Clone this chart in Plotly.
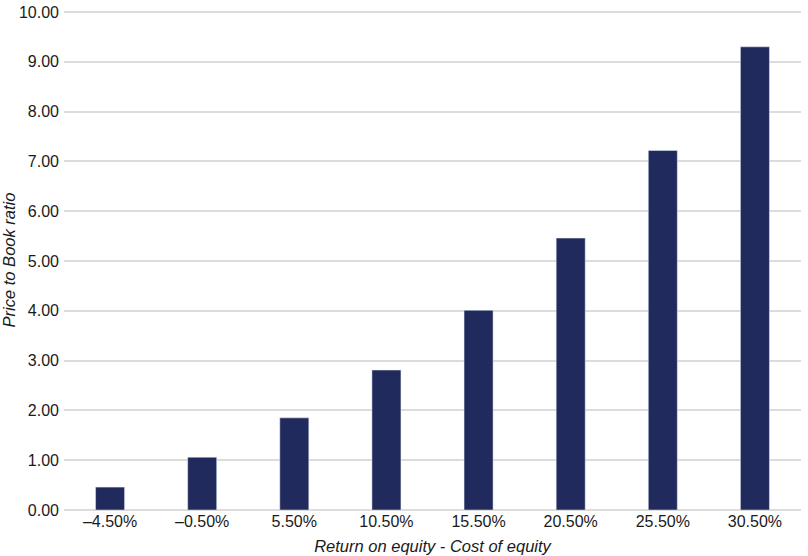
import plotly.graph_objects as go

# spread between return on equity and cost of equity
spread = ['–4.50%', '–0.50%', '5.50%', '10.50%', '15.50%', '20.50%', '25.50%', '30.50%']
pb_ratio = [0.46, 1.06, 1.85, 2.81, 4.01, 5.46, 7.22, 9.30]

y_ticks = [0, 1, 2, 3, 4, 5, 6, 7, 8, 9, 10]

fig = go.Figure()

fig.add_trace(go.Bar(x=spread, y=pb_ratio, marker=dict(color='#212a5c'), name='P/B'))

fig.update_layout(
    width=808, height=556,
    margin=dict(l=64, r=7, t=10, b=46),
    plot_bgcolor='white', paper_bgcolor='white',
    font=dict(family='Liberation Sans, Arial, sans-serif', size=16, color='#1a1a1a'),
    bargap=0.685,
    showlegend=False,
    xaxis=dict(
        title=dict(text='<i>Return on equity - Cost of equity</i>', standoff=11, font=dict(size=16.5)),
        showgrid=False, showline=False, ticks='',
        tickfont=dict(size=16), automargin=False,
    ),
    yaxis=dict(
        title=dict(text='<i>Price to Book ratio</i>', standoff=0, font=dict(size=16.5)),
        range=[0, 10.04], tickvals=y_ticks, tickformat='.2f',
        gridcolor='#dcdcdc', gridwidth=1.5, zeroline=True, zerolinecolor='#dcdcdc', zerolinewidth=1.5,
        ticks='', tickfont=dict(size=16), ticklabelstandoff=4, automargin=False,
    ),
)

# drop the default page margin so the figure sits at the top-left corner
fig.write_html("out.html", config={'displayModeBar': False},
               post_script="document.body.style.margin='0';")
